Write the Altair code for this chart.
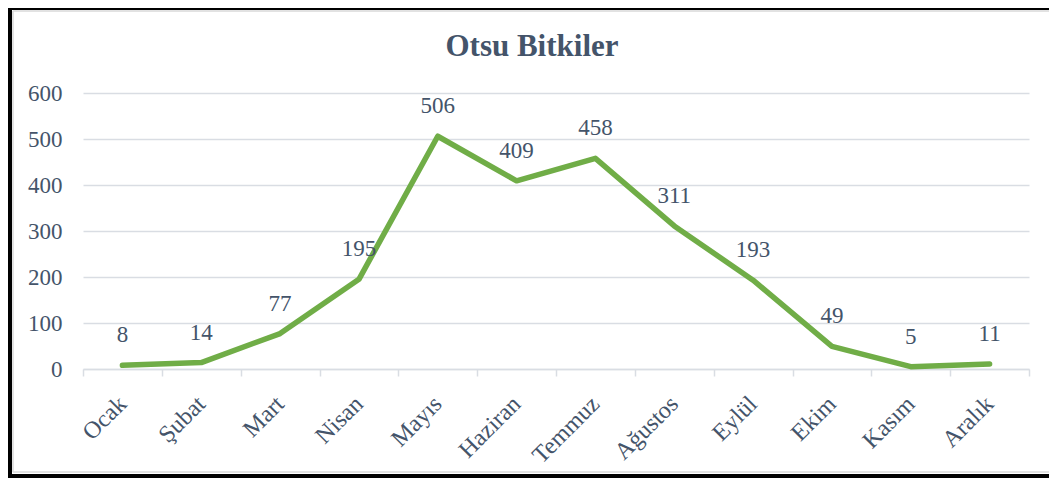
import altair as alt
import pandas as pd

months = ["Ocak", "Şubat", "Mart", "Nisan", "Mayıs", "Haziran", "Temmuz",
          "Ağustos", "Eylül", "Ekim", "Kasım", "Aralık"]
values = [8, 14, 77, 195, 506, 409, 458, 311, 193, 49, 5, 11]
y_ticks = [0, 100, 200, 300, 400, 500, 600]
title_text = "Otsu Bitkiler"

df = pd.DataFrame({"month": months, "value": values})

W, H = 946, 276
PL, PT = 75, 85
TOTAL_W, TOTAL_H = 1041, 470
PR, PB = TOTAL_W - W - PL, TOTAL_H - H - PT

TEXT = "#44546A"
FONT = "Liberation Serif"
GRID = "#D9DDE3"
GREEN = "#70AD47"

x_enc = alt.X(
    "month:N", sort=months, bandPosition=0.5,
    scale=alt.Scale(type="band", paddingInner=0, paddingOuter=0),
    axis=alt.Axis(title=None, labelAngle=-45, labelAlign="right",
                  labelBaseline="middle", labelPadding=24, tickSize=7,
                  tickBand="extent", tickColor=GRID, tickWidth=1.5,
                  domainColor=GRID, domainWidth=1.5, grid=False,
                  labelFont=FONT, labelFontSize=24, labelColor=TEXT),
)
y_enc = alt.Y(
    "value:Q", scale=alt.Scale(domain=[0, 600]),
    axis=alt.Axis(title=None, values=y_ticks, ticks=False, domain=False,
                  labelPadding=21, gridColor=GRID, gridWidth=1.5,
                  labelFont=FONT, labelFontSize=23, labelColor=TEXT),
)

base = alt.Chart(df)
line = base.mark_line(color=GREEN, strokeWidth=5.5, strokeCap="round",
                      strokeJoin="round").encode(x=x_enc, y=y_enc)
labels = base.mark_text(dy=-23, baseline="alphabetic", fontSize=23, font=FONT,
                        color=TEXT).encode(
    x=alt.X("month:N", sort=months, bandPosition=0.5),
    y="value:Q", text="value:Q")

title = alt.Chart(pd.DataFrame({"t": [title_text]})).mark_text(
    font=FONT, fontSize=31, fontWeight="bold", color=TEXT,
    baseline="alphabetic", align="center").encode(
    text="t:N", x=alt.value(W / 2 - 24), y=alt.value(-37))

one = pd.DataFrame({"a": [0]})
def rule(x, x2, y, y2, color, width):
    return alt.Chart(one).mark_rule(color=color, strokeWidth=width).encode(
        x=alt.value(x), x2=alt.value(x2), y=alt.value(y), y2=alt.value(y2))

left, top, right, bottom = -PL, -PT, W + PR, H + PB
borders = [
    rule(left + 2, left + 2, top, bottom, "black", 4),
    rule(left, right, top + 1, top + 1, "black", 2),
    rule(left, right, bottom - 2, bottom - 2, "black", 4),
    rule(left + 5, left + 5, top + 3, bottom - 6, "#D9D9D9", 1.5),
    rule(left + 5, right, top + 3, top + 3, "#D9D9D9", 1.5),
    rule(left + 5, right, bottom - 6, bottom - 6, "#D9D9D9", 1.5),
]

chart = alt.layer(line, labels, title, *borders).properties(
    width=W, height=H,
    padding={"left": PL, "top": PT, "right": PR, "bottom": PB},
    autosize=alt.AutoSizeParams(type="none"),
    background="white",
).configure_view(stroke=None)

chart.save("out.html", embed_options={"renderer": "svg", "actions": False})
